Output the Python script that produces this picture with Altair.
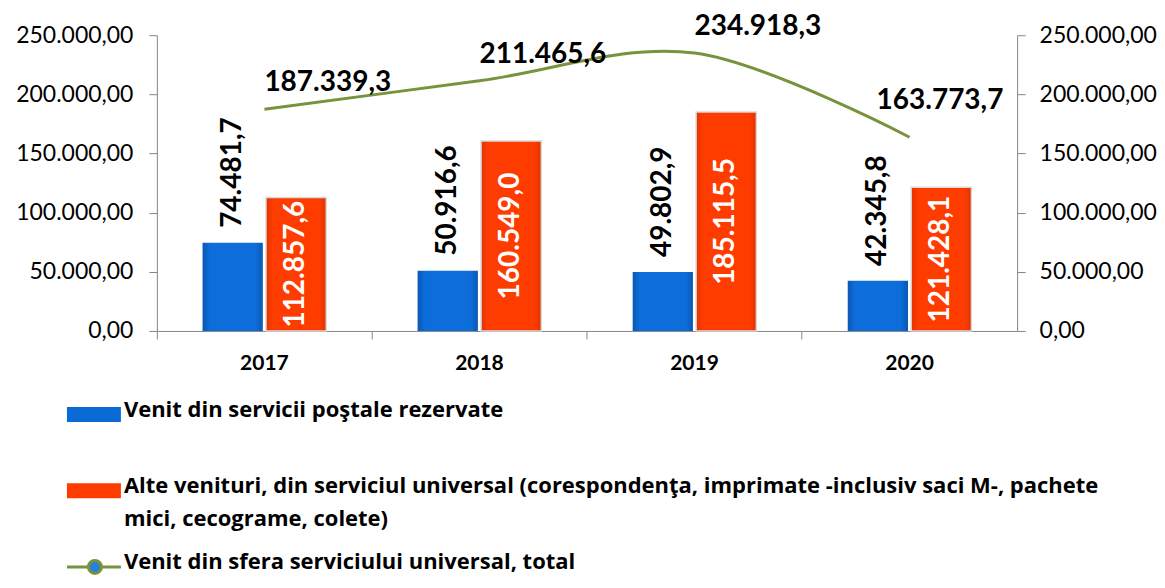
import altair as alt
import pandas as pd

years = ["2017", "2018", "2019", "2020"]
reserved = [74481.7, 50916.6, 49802.9, 42345.8]
other = [112857.6, 160549.0, 185115.5, 121428.1]
total = [187339.3, 211465.6, 234918.3, 163773.7]

s_res = "Venit din servicii poştale rezervate"
s_oth = "Alte venituri, din serviciul universal (corespondenţa, imprimate -inclusiv saci M-, pachete mici, cecograme, colete)"
s_tot = "Venit din sfera serviciului universal, total"
legend_text = [
    "Venit din servicii poştale rezervate",
    "Alte venituri, din serviciul universal (corespondenţa, imprimate -inclusiv saci M-, pachete\nmici, cecograme, colete)",
    "Venit din sfera serviciului universal, total",
]

BLUE = "#0b6bd6"
ORANGE = "#ff3c00"
GREEN = "#77933c"
AXIS = "#868686"
FONT = "Lato"
LEGFONT = "Open Sans"

BLUE_GRAD = alt.Gradient(
    gradient="linear", x1=0, x2=1, y1=0, y2=0,
    stops=[
        alt.GradientStop(color="#0a58b4", offset=0),
        alt.GradientStop(color="#0d6dda", offset=0.12),
        alt.GradientStop(color="#0d6dda", offset=0.88),
        alt.GradientStop(color="#0a58b4", offset=1),
    ],
)
ORANGE_GRAD = alt.Gradient(
    gradient="linear", x1=0, x2=1, y1=0, y2=0,
    stops=[
        alt.GradientStop(color="#e23400", offset=0),
        alt.GradientStop(color="#ff3c00", offset=0.12),
        alt.GradientStop(color="#ff3c00", offset=0.88),
        alt.GradientStop(color="#e23400", offset=1),
    ],
)


def ro(v):
    s = f"{v:,.1f}"
    return s.replace(",", "#").replace(".", ",").replace("#", ".")


bars = pd.DataFrame(
    {
        "year": years * 2,
        "series": [s_res] * 4 + [s_oth] * 4,
        "value": reserved + other,
    }
)
bars["label"] = bars["value"].map(ro)
bars["mid"] = bars["value"] / 2

line_df = pd.DataFrame({"year": years, "value": total, "label": [ro(v) for v in total]})

W, H = 861, 296
ydom = [0, 250000]
ticks = [0, 50000, 100000, 150000, 200000, 250000]
lab_expr = "replace(replace(replace(format(datum.value, ',.2f'), ',', '#'), '.', ','), '#', '.')"
noview = alt.ViewBackground(stroke="transparent", strokeWidth=0)

xenc = alt.X(
    "year:N",
    sort=years,
    scale=alt.Scale(paddingInner=0, paddingOuter=0),
    axis=alt.Axis(
        title=None,
        labelAngle=0,
        labelFont=FONT,
        labelFontSize=21,
        labelFontWeight="bold",
        labelColor="black",
        labelPadding=14,
        tickSize=8,
        tickColor=AXIS,
        domainColor=AXIS,
        bandPosition=0,
    ),
)
xplain = alt.X("year:N", sort=years)
xoff = alt.XOffset(
    "series:N",
    sort=[s_res, s_oth],
    scale=alt.Scale(domain=[s_res, s_oth], paddingInner=0.05, paddingOuter=0.72),
)

yleft = alt.Y(
    "value:Q",
    scale=alt.Scale(domain=ydom, nice=False),
    axis=alt.Axis(
        title=None,
        values=ticks,
        labelExpr=lab_expr,
        labelFont=FONT,
        labelFontSize=23,
        labelColor="black",
        labelPadding=16,
        tickSize=8,
        tickColor=AXIS,
        domainColor=AXIS,
        grid=False,
        minExtent=149,
    ),
)
yplain = alt.Y("value:Q", scale=alt.Scale(domain=ydom, nice=False), axis=None)

base_bars = alt.Chart(bars)

bar_blue = base_bars.transform_filter(alt.datum.series == s_res).mark_bar(
    color=BLUE_GRAD
).encode(x=xenc, xOffset=xoff, y=yleft)

bar_orange = base_bars.transform_filter(alt.datum.series == s_oth).mark_bar(
    color=ORANGE_GRAD, stroke="#d9d9d9", strokeWidth=1.5
).encode(x=xplain, xOffset=xoff, y=yplain)

blue_lbl = base_bars.transform_filter(alt.datum.series == s_res).mark_text(
    angle=270, align="left", baseline="middle", dx=15, font=FONT, fontSize=28,
    fontWeight="bold", color="black",
).encode(x=xplain, xOffset=xoff, y=yplain, text="label:N")

orange_lbl = base_bars.transform_filter(alt.datum.series == s_oth).mark_text(
    angle=270, align="center", baseline="middle", font=FONT, fontSize=28,
    fontWeight="bold", color="white",
).encode(
    x=xplain,
    xOffset=xoff,
    y=alt.Y("mid:Q", scale=alt.Scale(domain=ydom, nice=False), axis=None),
    text="label:N",
)

yright = alt.Y(
    "value:Q",
    scale=alt.Scale(domain=ydom, nice=False),
    axis=alt.Axis(
        title=None,
        orient="right",
        values=ticks,
        labelExpr=lab_expr,
        labelFont=FONT,
        labelFontSize=23,
        labelColor="black",
        labelPadding=14,
        tickSize=8,
        tickColor=AXIS,
        domainColor=AXIS,
        grid=False,
    ),
)

line_layer = alt.Chart(line_df).mark_line(
    interpolate="cardinal", color=GREEN, strokeWidth=3
).encode(x=xplain, y=yright)

line_lbl = alt.Chart(line_df).transform_filter(alt.datum.year != "2020").mark_text(
    align="left", baseline="middle", dx=0, dy=-26, font=FONT, fontSize=28,
    fontWeight="bold", color="black",
).encode(x=xplain, y=yplain, text="label:N")

line_lbl_last = alt.Chart(line_df).transform_filter(alt.datum.year == "2020").mark_text(
    align="left", baseline="middle", dx=-33, dy=-36, font=FONT, fontSize=28,
    fontWeight="bold", color="black",
).encode(x=xplain, y=yplain, text="label:N")

main = (
    alt.layer(bar_blue, bar_orange, blue_lbl, orange_lbl, line_layer, line_lbl, line_lbl_last)
    .resolve_scale(y="independent")
    .properties(width=W, height=H, view=noview)
)

# legend panel (x positions relative to the plot's left edge)
leg_df = pd.DataFrame({"row": [0, 1, 2], "text": legend_text, "series": [s_res, s_oth, s_tot]})
rowy = alt.Y("row:Q", axis=None, scale=alt.Scale(domain=[-0.271, 2.142], reverse=True, nice=False, zero=False))
leg_base = alt.Chart(leg_df)

leg_rects = leg_base.transform_filter(alt.datum.row < 2).mark_rule(strokeWidth=15).encode(
    x=alt.value(-90), x2=alt.value(-36), y=rowy,
    color=alt.Color("series:N", scale=alt.Scale(domain=[s_res, s_oth, s_tot], range=[BLUE, ORANGE, GREEN]), legend=None),
)
leg_line = leg_base.transform_filter(alt.datum.row == 2).mark_rule(strokeWidth=3, color=GREEN).encode(
    x=alt.value(-90), x2=alt.value(-36), y=rowy,
)
leg_dot = leg_base.transform_filter(alt.datum.row == 2).mark_point(
    filled=True, shape="circle", size=170, fill="#2a7fd8", stroke=GREEN, strokeWidth=3, opacity=1
).encode(x=alt.value(-62), y=rowy)
leg_txt = leg_base.mark_text(
    align="left", baseline="top", dy=-15, lineBreak="\n", lineHeight=33,
    font=LEGFONT, fontSize=22, fontWeight="bold", color="black",
).encode(x=alt.value(-33), y=rowy, text="text:N")

legend = alt.layer(leg_rects, leg_line, leg_dot, leg_txt).properties(width=W, height=184, view=noview)

chart = (
    alt.vconcat(main, legend, spacing=20)
    .resolve_scale(color="independent")
    .properties(padding={"left": 0, "top": 4, "right": 0, "bottom": 0})
    .configure_view(stroke="transparent", strokeWidth=0)
    .configure(background="white")
)

chart.save("out.html", embed_options={"renderer": "svg", "actions": False})
